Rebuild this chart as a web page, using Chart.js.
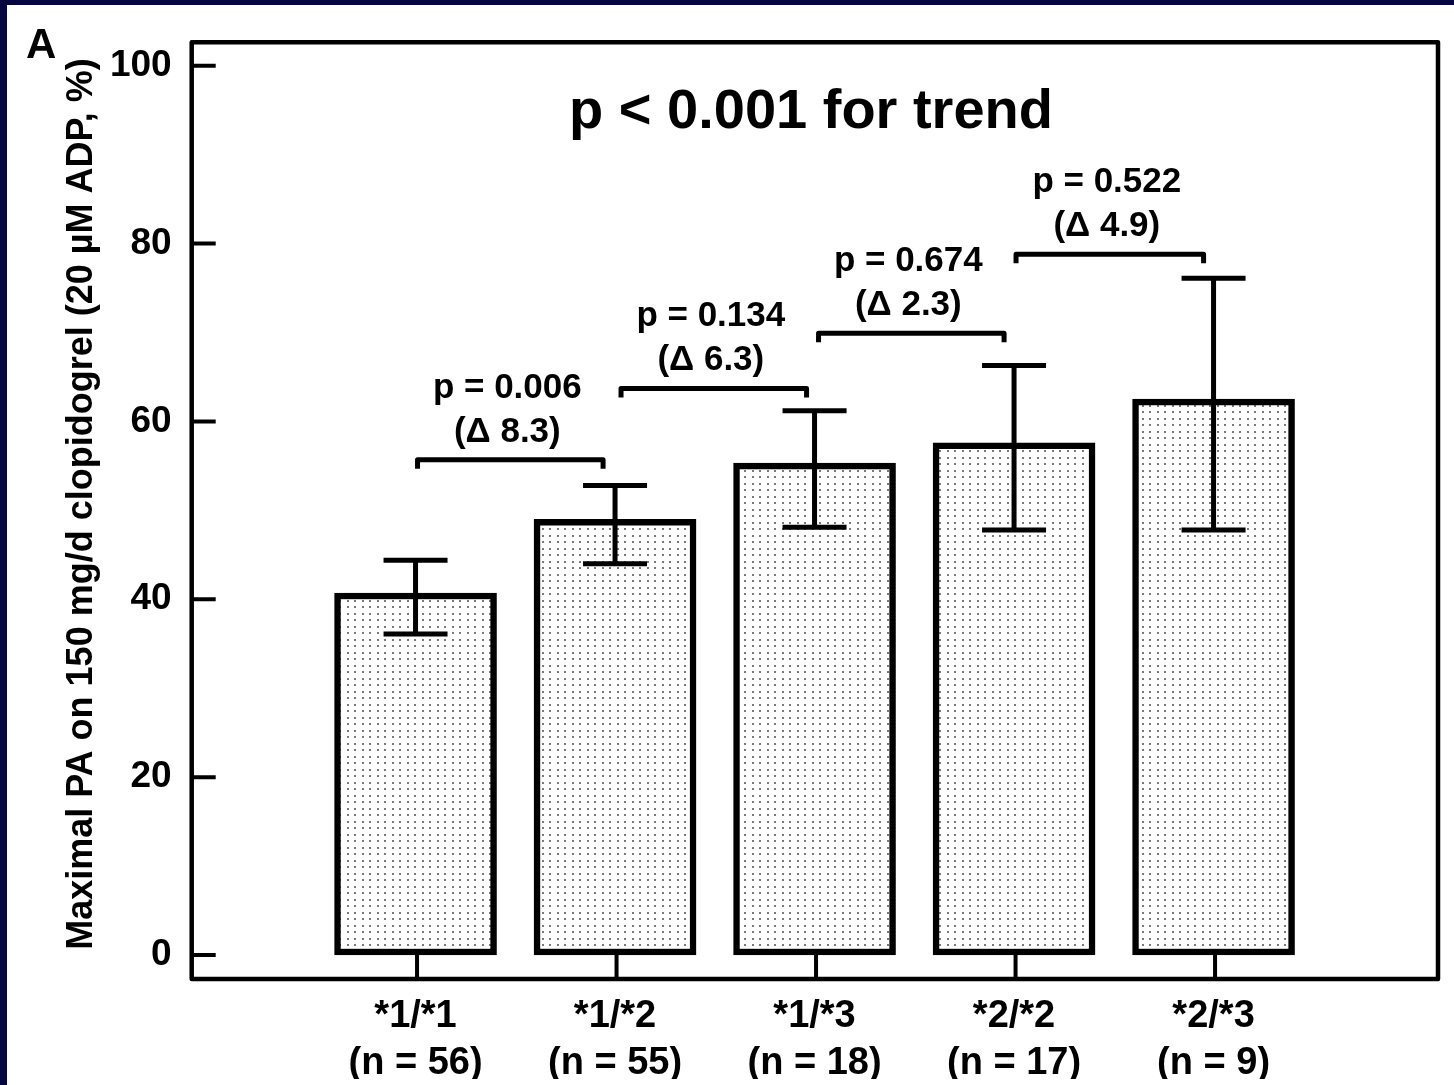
<!DOCTYPE html>
<html>
<head>
<meta charset="utf-8">
<script src="https://cdn.jsdelivr.net/npm/chart.js@4.4.1/dist/chart.umd.min.js"></script>
<style>
  html, body { margin: 0; padding: 0; background: #06063f; overflow: hidden; }
  canvas { display: block; }
</style>
</head>
<body>
<canvas id="c" width="1454" height="1085"></canvas>
<script>
// Genotype groups and their maximal platelet aggregation (mean with error range)
const genotypes = ['*1/*1', '*1/*2', '*1/*3', '*2/*2', '*2/*3'];
const groupSizes = [56, 55, 18, 17, 9];
const meanPA = [40.7, 49.0, 55.3, 57.6, 62.5];
const errUpper = [44.4, 52.8, 61.2, 66.3, 76.1];
const errLower = [36.1, 44.0, 48.1, 47.8, 47.8];
const yTickValues = [0, 20, 40, 60, 80, 100];

// Pairwise comparisons between neighbouring groups
const pairP = ['0.006', '0.134', '0.674', '0.522'];
const pairDelta = ['8.3', '6.3', '2.3', '4.9'];
const bracketLevel = [55.7, 63.7, 69.9, 78.8];
const bracketFrom = [0.01, 1.03, 2.02, 3.01];
const bracketTo = [0.94, 1.96, 2.95, 3.95];

const trendText = 'p < 0.001 for trend';
const yTitle = 'Maximal PA on 150 mg/d clopidogrel (20 \u00B5M ADP, %)';
const panelLetter = 'A';

const FONT = '"Liberation Sans", Arial, Helvetica, sans-serif';
const canvas = document.getElementById('c');
const ctx = canvas.getContext('2d');

// Fine grey stipple used to fill the bars
function stipple() {
  const t = document.createElement('canvas');
  t.width = 15; t.height = 13;
  const g = t.getContext('2d');
  g.fillStyle = '#ffffff';
  g.fillRect(0, 0, 15, 13);
  g.fillStyle = '#7a7a7a';
  [[2, 2], [9, 2], [2, 8], [9, 8]].forEach(([x, y]) => g.fillRect(x, y, 2, 2));
  return ctx.createPattern(t, 'repeat');
}

const backdrop = {
  id: 'backdrop',
  beforeDraw(chart) {
    const c = chart.ctx;
    c.save();
    c.fillStyle = '#06063f';
    c.fillRect(0, 0, chart.width, chart.height);
    c.fillStyle = '#ffffff';
    c.fillRect(7, 5, chart.width - 7, chart.height - 5);
    c.restore();
  }
};

const overlay = {
  id: 'overlay',
  afterDatasetsDraw(chart) {
    const c = chart.ctx;
    const xs = chart.scales.x, ys = chart.scales.y;
    const area = chart.chartArea;
    c.save();
    c.strokeStyle = '#000';
    c.fillStyle = '#000';
    c.lineCap = 'butt';

    // error bars
    c.lineWidth = 5;
    meanPA.forEach((v, i) => {
      const x = xs.getPixelForValue(i);
      const yu = ys.getPixelForValue(errUpper[i]);
      const yl = ys.getPixelForValue(errLower[i]);
      c.beginPath();
      c.moveTo(x, yu); c.lineTo(x, yl);
      c.moveTo(x - 32, yu); c.lineTo(x + 32, yu);
      c.moveTo(x - 32, yl); c.lineTo(x + 32, yl);
      c.stroke();
    });

    // comparison brackets with p values and differences
    c.lineJoin = 'round';
    c.textAlign = 'center';
    c.textBaseline = 'alphabetic';
    bracketLevel.forEach((lvl, k) => {
      const x0 = xs.getPixelForValue(bracketFrom[k]);
      const x1 = xs.getPixelForValue(bracketTo[k]);
      const y = ys.getPixelForValue(lvl);
      c.lineWidth = 5;
      c.beginPath();
      c.moveTo(x0, y + 9); c.lineTo(x0, y); c.lineTo(x1, y); c.lineTo(x1, y + 9);
      c.stroke();
      const mx = (x0 + x1) / 2 - 3;
      c.font = 'bold 35px ' + FONT;
      c.fillText('p = ' + pairP[k], mx, y - 62);
      c.fillText('(\u0394 ' + pairDelta[k] + ')', mx, y - 18);
    });

    // trend statement
    c.font = 'bold 56px ' + FONT;
    c.fillText(trendText, 811, 128);

    // inward tick marks
    c.lineWidth = 4;
    c.beginPath();
    yTickValues.forEach(v => {
      const y = ys.getPixelForValue(v);
      c.moveTo(area.left, y); c.lineTo(area.left + 24, y);
    });
    genotypes.forEach((g, i) => {
      const x = xs.getPixelForValue(i) + 1.5;
      c.moveTo(x, area.bottom); c.lineTo(x, ys.getPixelForValue(0));
    });
    c.stroke();

    // plot frame
    c.lineWidth = 4.5;
    c.strokeRect(area.left, area.top, area.right - area.left, area.bottom - area.top);

    // y axis title
    c.save();
    c.translate(92, 504);
    c.rotate(-Math.PI / 2);
    c.font = 'bold 36px ' + FONT;
    c.textAlign = 'center';
    c.textBaseline = 'alphabetic';
    c.fillText(yTitle, 0, 0);
    c.restore();

    // panel letter
    c.font = 'bold 42px ' + FONT;
    c.textAlign = 'left';
    c.fillText(panelLetter, 26, 58);
    c.restore();
  }
};

new Chart(canvas, {
  type: 'bar',
  data: {
    datasets: [{
      data: meanPA.map((v, i) => ({ x: i, y: v })),
      backgroundColor: stipple(),
      borderColor: '#000',
      borderWidth: 6.5,
      borderSkipped: false,
      barThickness: 162
    }]
  },
  plugins: [backdrop, overlay],
  options: {
    responsive: false,
    animation: false,
    devicePixelRatio: 1,
    layout: { padding: { left: 91.7, top: 42, right: 16, bottom: 6 } },
    plugins: { legend: { display: false }, tooltip: { enabled: false } },
    scales: {
      x: {
        type: 'linear',
        offset: false,
        min: -1.122,
        max: 5.125,
        grid: { display: false, drawTicks: false, offset: false },
        border: { display: false },
        afterBuildTicks(scale) { scale.ticks = genotypes.map((g, i) => ({ value: i })); },
        afterFit(scale) { scale.height = 100; },
        ticks: {
          autoSkip: false,
          maxRotation: 0,
          padding: 14,
          color: '#000',
          font: { family: FONT, size: 38, weight: 'bold', lineHeight: 1.24 },
          callback: (v) => [genotypes[v], '(n = ' + groupSizes[v] + ')']
        }
      },
      y: {
        min: -2.7,
        max: 102.64,
        grid: { display: false, drawTicks: false },
        border: { display: false },
        afterBuildTicks(scale) { scale.ticks = yTickValues.map(v => ({ value: v })); },
        afterFit(scale) { scale.width = 100; },
        ticks: {
          padding: 20,
          color: '#000',
          font: { family: FONT, size: 37, weight: 'bold' },
          callback: (v) => String(v)
        }
      }
    }
  }
});
</script>
</body>
</html>
